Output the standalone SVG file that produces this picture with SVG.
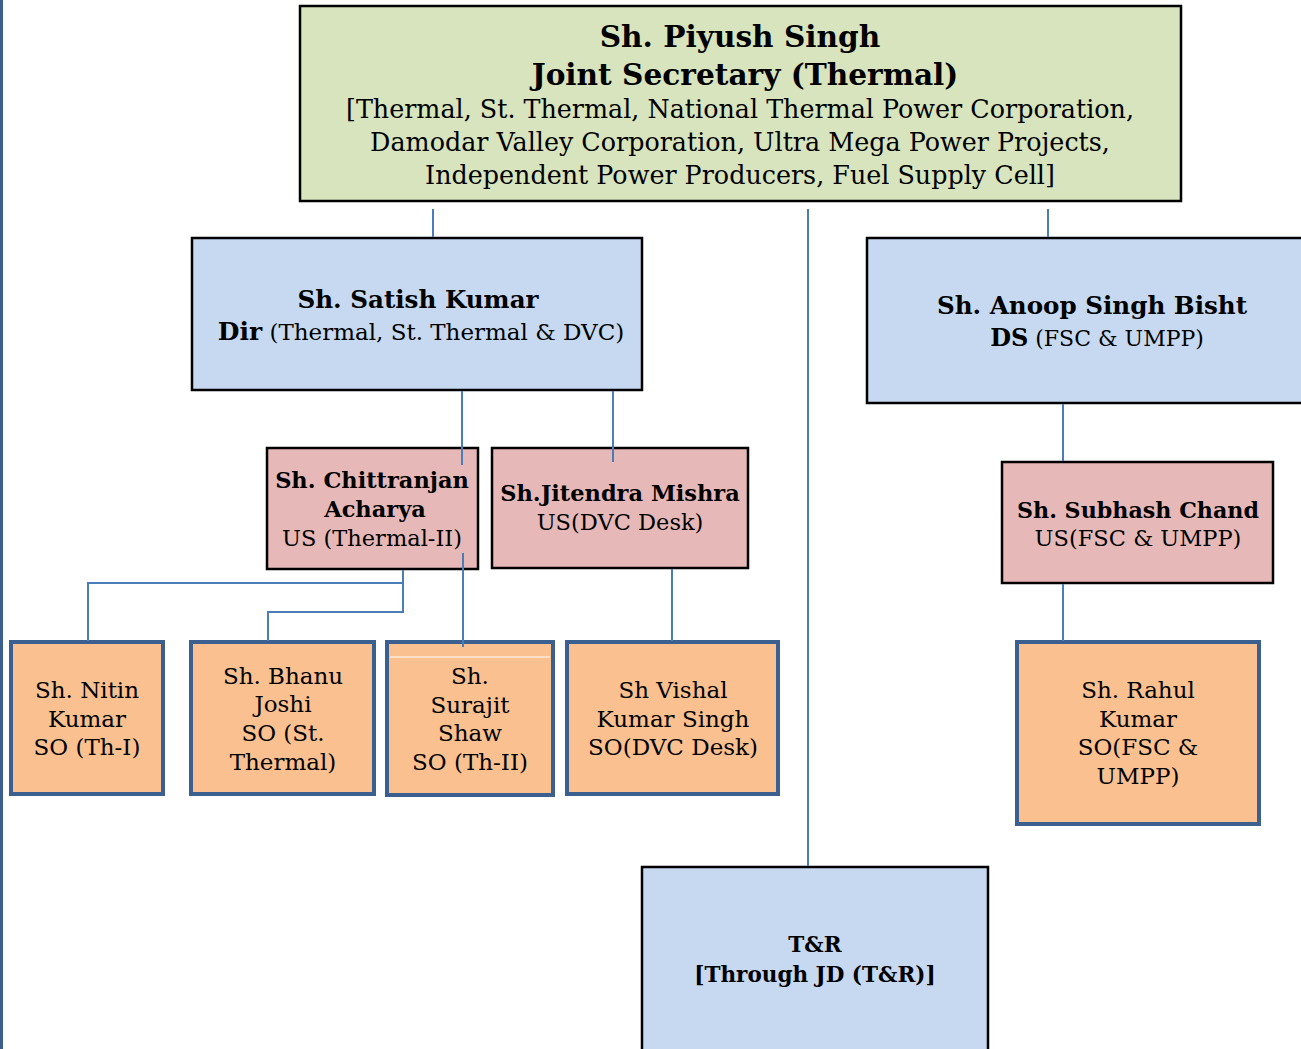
<svg xmlns="http://www.w3.org/2000/svg" width="1301" height="1049" viewBox="0 0 1301 1049">
<style>
text{font-family:"DejaVu Serif","Liberation Serif",serif;fill:#000;text-anchor:middle}
.b{font-weight:bold}
.top{fill:#d7e4bd;stroke:#000;stroke-width:2.5}
.blue{fill:#c6d9f1;stroke:#000;stroke-width:2.5}
.pink{fill:#e6b9b8;stroke:#000;stroke-width:2.5}
.org{fill:#fac090;stroke:#3b5f8e;stroke-width:4}
.c{stroke:#4a7ebb;stroke-width:2;fill:none}
.pt{font-size:22.5px}
.ot{font-size:23px}
</style>
<rect x="0" y="0" width="3" height="1049" fill="#3b5f8e"/>
<g id="n-piyush">
<rect class="top" x="300" y="6" width="881" height="195"/>
<text class="b" x="740" y="47" font-size="29.6">Sh. Piyush Singh</text>
<text class="b" x="745" y="85" font-size="29.6">Joint Secretary (Thermal)</text>
<text x="740" y="118" font-size="25.4">[Thermal, St. Thermal, National Thermal Power Corporation,</text>
<text x="740" y="151" font-size="25.4">Damodar Valley Corporation, Ultra Mega Power Projects,</text>
<text x="740" y="184" font-size="25.4">Independent Power Producers, Fuel Supply Cell]</text>
</g>
<g id="n-satish">
<rect class="blue" x="192" y="238" width="450" height="152"/>
<text class="b" x="418" y="308" font-size="24.6">Sh. Satish Kumar</text>
<text x="421" y="340" font-size="23"><tspan class="b" font-size="25">Dir</tspan> (Thermal, St. Thermal &amp; DVC)</text>
</g>
<g id="n-anoop">
<rect class="blue" x="867" y="238" width="440" height="165"/>
<text class="b" x="1092" y="314" font-size="24.6">Sh. Anoop Singh Bisht</text>
<text x="1097" y="346" font-size="22"><tspan class="b" font-size="24">DS</tspan> (FSC &amp; UMPP)</text>
</g>
<g id="n-chittranjan">
<rect class="pink" x="267" y="448" width="211" height="121"/>
<text class="b pt" x="372" y="488">Sh. Chittranjan</text>
<text class="b pt" x="375" y="517">Acharya</text>
<text class="pt" x="372" y="546">US (Thermal-II)</text>
</g>
<g id="n-jitendra">
<rect class="pink" x="492" y="448" width="256" height="120"/>
<text class="b pt" x="620" y="501">Sh.Jitendra Mishra</text>
<text class="pt" x="620" y="530">US(DVC Desk)</text>
</g>
<g id="n-subhash">
<rect class="pink" x="1002" y="462" width="271" height="121"/>
<text class="b" x="1138" y="518" font-size="22.2">Sh. Subhash Chand</text>
<text class="pt" x="1138" y="546">US(FSC &amp; UMPP)</text>
</g>
<g id="n-nitin">
<rect class="org" x="11" y="642" width="152" height="152"/>
<text class="ot" x="87" y="698">Sh. Nitin</text>
<text class="ot" x="87" y="727">Kumar</text>
<text class="ot" x="87" y="755">SO (Th-I)</text>
</g>
<g id="n-bhanu">
<rect class="org" x="191" y="642" width="183" height="152"/>
<text class="ot" x="283" y="684">Sh. Bhanu</text>
<text class="ot" x="283" y="712">Joshi</text>
<text class="ot" x="283" y="741">SO (St.</text>
<text class="ot" x="283" y="770">Thermal)</text>
</g>
<g id="n-surajit">
<rect class="org" x="387" y="642" width="166" height="153"/>
<line x1="390" y1="657" x2="550" y2="657" stroke="#fff" stroke-width="1"/>
<text class="ot" x="470" y="684">Sh.</text>
<text class="ot" x="470" y="713">Surajit</text>
<text class="ot" x="470" y="741">Shaw</text>
<text class="ot" x="470" y="770">SO (Th-II)</text>
</g>
<g id="n-vishal">
<rect class="org" x="567" y="642" width="211" height="152"/>
<text class="ot" x="673" y="698">Sh Vishal</text>
<text class="ot" x="673" y="727">Kumar Singh</text>
<text class="ot" x="673" y="755">SO(DVC Desk)</text>
</g>
<g id="n-rahul">
<rect class="org" x="1017" y="642" width="242" height="182"/>
<text class="ot" x="1138" y="698">Sh. Rahul</text>
<text class="ot" x="1138" y="727">Kumar</text>
<text class="ot" x="1138" y="755">SO(FSC &amp;</text>
<text class="ot" x="1138" y="784">UMPP)</text>
</g>
<g id="n-tr">
<rect class="blue" x="642" y="867" width="346" height="190"/>
<text class="b" x="815" y="952" font-size="21.5">T&amp;R</text>
<text class="b" x="815" y="982" font-size="21.5">[Through JD (T&amp;R)]</text>
</g>
<g id="connectors">
<path class="c" d="M433 209V237M808 209V866M1048 209V237M462 391V465M613 391V462M1063 404V461M1063 584V641M403 570V583H88V641M403 583V612H268V641M463 553V647M672 569V641"/>
</g>
</svg>
